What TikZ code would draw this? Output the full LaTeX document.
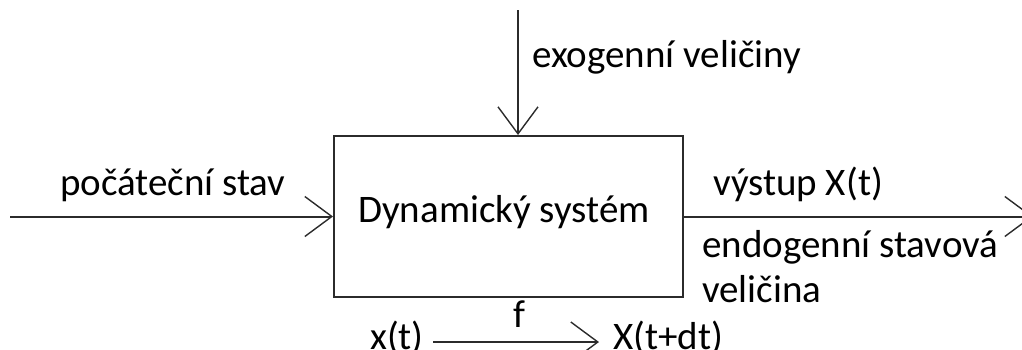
\documentclass[tikz,border=0pt]{standalone}
\usepackage{fontspec}
\setmainfont{Carlito}
\usetikzlibrary{arrows.meta}
\definecolor{linec}{HTML}{2B2B2B}
\tikzset{
  lbl/.style={font=\fontsize{39}{45}\selectfont, text=black, inner sep=0pt, anchor=base west},
  conn/.style={draw=linec, line width=2pt, -{Straight Barb[length=27pt,width=40pt,line width=1.4pt]}},
  sysbox/.style={draw=linec, line width=2pt, minimum width=349pt, minimum height=161pt, inner sep=0pt}
}
\begin{document}
\begin{tikzpicture}[x=1pt,y=-1pt]
\useasboundingbox (0,0) rectangle (1022,349);
\node[sysbox] (sys) at (508.5,216.5) {};
\node[lbl] (dyn) at (358,222) {Dynamický systém};
\node[lbl] (init) at (60,195) {počáteční stav};
\node[lbl] (exo) at (532,67) {exogenní veličiny};
\node[lbl] (out) at (713,195) {výstup X(t)};
\node[lbl] (endo) at (702,257) {endogenní stavová};
\node[lbl] (endo2) at (702,302) {veličina};
\node[lbl] (f) at (513,327) {f};
\node[lbl] (xt) at (370,349) {x(t)};
\node[lbl] (xtdt) at (613,349) {X(t+dt)};
\coordinate (lin) at (10,216.5);
\coordinate (top) at (518,10);
\coordinate (rout) at (1033,216.5);
\coordinate (fa) at (433,342);
\coordinate (fb) at (599,342);
\draw[conn] (lin) -- (sys.west);
\draw[conn] (top) -- (sys.north -| top);
\draw[conn] (sys.east) -- (rout);
\draw[conn] (fa) -- (fb);
\end{tikzpicture}
\end{document}
